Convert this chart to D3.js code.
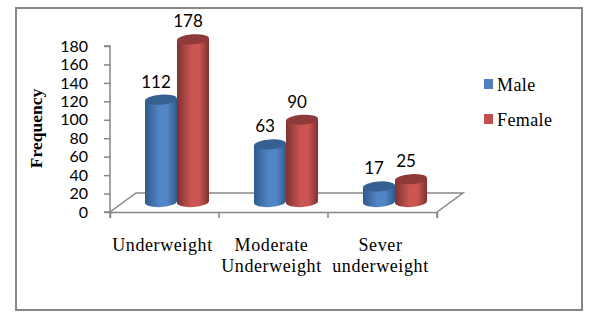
<!DOCTYPE html>
<html>
<head>
<meta charset="utf-8">
<script src="https://cdn.jsdelivr.net/npm/d3@7"></script>
<style>
html, body { margin: 0; padding: 0; background: #fff; }
svg { display: block; }
</style>
</head>
<body>
<div id="chart"></div>
<script>
var categories = ['Underweight', 'Moderate Underweight', 'Sever underweight'];
var categoryLines = [['Underweight'], ['Moderate', 'Underweight'], ['Sever', 'underweight']];
var seriesNames = ['Male', 'Female'];
var male = [112, 63, 17];
var female = [178, 90, 25];
var yTicks = [0, 20, 40, 60, 80, 100, 120, 140, 160, 180];

var colors = { Male: '#4f81bd', Female: '#c0504d' };
var tops = { Male: '#376092', Female: '#8e3a38' };
var serif = '"Liberation Serif", serif';
var sans = 'Lato, sans-serif';

var svg = d3.select('#chart').append('svg').attr('width', 594).attr('height', 320);

// gradients for the cylinders
var defs = svg.append('defs');
function grad(id, edge, mid) {
    var g = defs.append('linearGradient').attr('id', id);
    g.append('stop').attr('offset', '0%').attr('stop-color', edge);
    g.append('stop').attr('offset', '45%').attr('stop-color', mid);
    g.append('stop').attr('offset', '70%').attr('stop-color', mid);
    g.append('stop').attr('offset', '100%').attr('stop-color', edge);
}
grad('gMale', '#2f5a8c', '#5285c6');
grad('gFemale', '#7d3230', '#cb5552');

svg.append('rect')
    .attr('x', 16).attr('y', 8).attr('width', 566).attr('height', 302)
    .attr('fill', 'none').attr('stroke', '#868686').attr('stroke-width', 2);

var x = d3.scaleBand().domain(categories).range([110, 437]);
var y = d3.scaleLinear().domain([0, 180]).range([212, 46]);
// bars stand in the middle of the floor, so their own scale starts higher up
var yBar = d3.scaleLinear().domain([0, 180]).range([202, 37.5]);
var xSeries = d3.scaleBand().domain(seriesNames).range([0, 64]);

var axisColor = '#868686';
var backY = 193, depth = 26;

// floor
var floor = [[110, 212], [110 + depth, backY], [437 + depth, backY], [437, 212]];
svg.append('path')
    .attr('d', d3.line()(floor))
    .attr('fill', 'none').attr('stroke', axisColor).attr('stroke-width', 1.5);

var yAxis = d3.axisLeft(y).tickValues(yTicks).tickSize(6).tickFormat(d3.format('d'));
var gy = svg.append('g').attr('transform', 'translate(110,0)').call(yAxis);
gy.selectAll('line,path').attr('stroke', axisColor).attr('stroke-width', 1.5);
gy.selectAll('text').attr('font-family', sans).attr('font-size', 16).attr('fill', '#000').attr('x', -22);
gy.select('.domain').attr('d', 'M-6,46H0V212H-6');

var xAxis = d3.axisBottom(x).tickSize(6).tickFormat('');
var gx = svg.append('g').attr('transform', 'translate(0,212)').call(xAxis);
gx.selectAll('.tick').remove();
gx.select('.domain').attr('stroke', axisColor).attr('stroke-width', 1.5);
gx.selectAll('.edge').data(categories.concat(['end'])).enter().append('line')
    .attr('class', 'edge')
    .attr('x1', function(d) { return d === 'end' ? 437 : x(d); })
    .attr('x2', function(d) { return d === 'end' ? 437 : x(d); })
    .attr('y1', 0).attr('y2', 6)
    .attr('stroke', axisColor).attr('stroke-width', 1.5);

svg.append('text')
    .attr('transform', 'translate(42,128.5) rotate(-90)')
    .attr('text-anchor', 'middle')
    .attr('font-family', serif).attr('font-size', 17.5).attr('font-weight', 'bold')
    .text('Frequency');

// cylinders
var rx = 16, ry = 5, tilt = -4;
var series = [{ name: 'Male', values: male, fill: 'url(#gMale)' }, { name: 'Female', values: female, fill: 'url(#gFemale)' }];
var groupStart = 35;

series.forEach(function(s) {
    var g = svg.append('g').selectAll('g').data(s.values).enter().append('g');
    var cx = function(d, i) { return x(categories[i]) + groupStart + xSeries(s.name) + xSeries.bandwidth() / 2; };

    g.append('path')
        .attr('d', function(d, i) {
            var c = cx(d, i), t = yBar(d), b = yBar(0);
            var dy = rx * Math.sin(-tilt * Math.PI / 180);
            return 'M' + (c - rx) + ',' + (t + dy) + 'L' + (c - rx) + ',' + (b + dy)
                + 'A' + rx + ',' + ry + ' ' + tilt + ' 0 0 ' + (c + rx) + ',' + (b - dy)
                + 'L' + (c + rx) + ',' + (t - dy) + 'Z';
        })
        .attr('fill', s.fill);

    g.append('ellipse')
        .attr('transform', function(d, i) { return 'translate(' + cx(d, i) + ',' + yBar(d) + ') rotate(' + tilt + ')'; })
        .attr('rx', rx).attr('ry', ry)
        .attr('fill', tops[s.name]);

    g.append('text')
        .attr('x', function(d, i) { return cx(d, i) - 5; })
        .attr('y', function(d) { return yBar(d) - 12; })
        .attr('text-anchor', 'middle')
        .attr('font-family', sans).attr('font-size', 17).attr('fill', '#000')
        .text(function(d) { return d; });
});

// category labels
categories.forEach(function(c, i) {
    var t = svg.append('text')
        .attr('text-anchor', 'middle')
        .attr('font-family', serif).attr('font-size', 18).attr('letter-spacing', 0.6).attr('fill', '#000');
    categoryLines[i].forEach(function(line, j) {
        t.append('tspan')
            .attr('x', x(c) + x.bandwidth() / 2 - 2)
            .attr('y', 251 + j * 21)
            .text(line);
    });
});

// legend
var legendY = d3.scalePoint().domain(seriesNames).range([84, 119]);
var legend = svg.append('g').selectAll('g').data(seriesNames).enter().append('g')
    .attr('transform', function(d) { return 'translate(484,' + legendY(d) + ')'; });
legend.append('rect')
    .attr('x', 0).attr('y', -5).attr('width', 9).attr('height', 10)
    .attr('fill', function(d) { return colors[d]; });
legend.append('text')
    .attr('x', 13).attr('y', 7)
    .attr('font-family', serif).attr('font-size', 18).attr('letter-spacing', 0.4)
    .text(function(d) { return d; });
</script>
</body>
</html>
